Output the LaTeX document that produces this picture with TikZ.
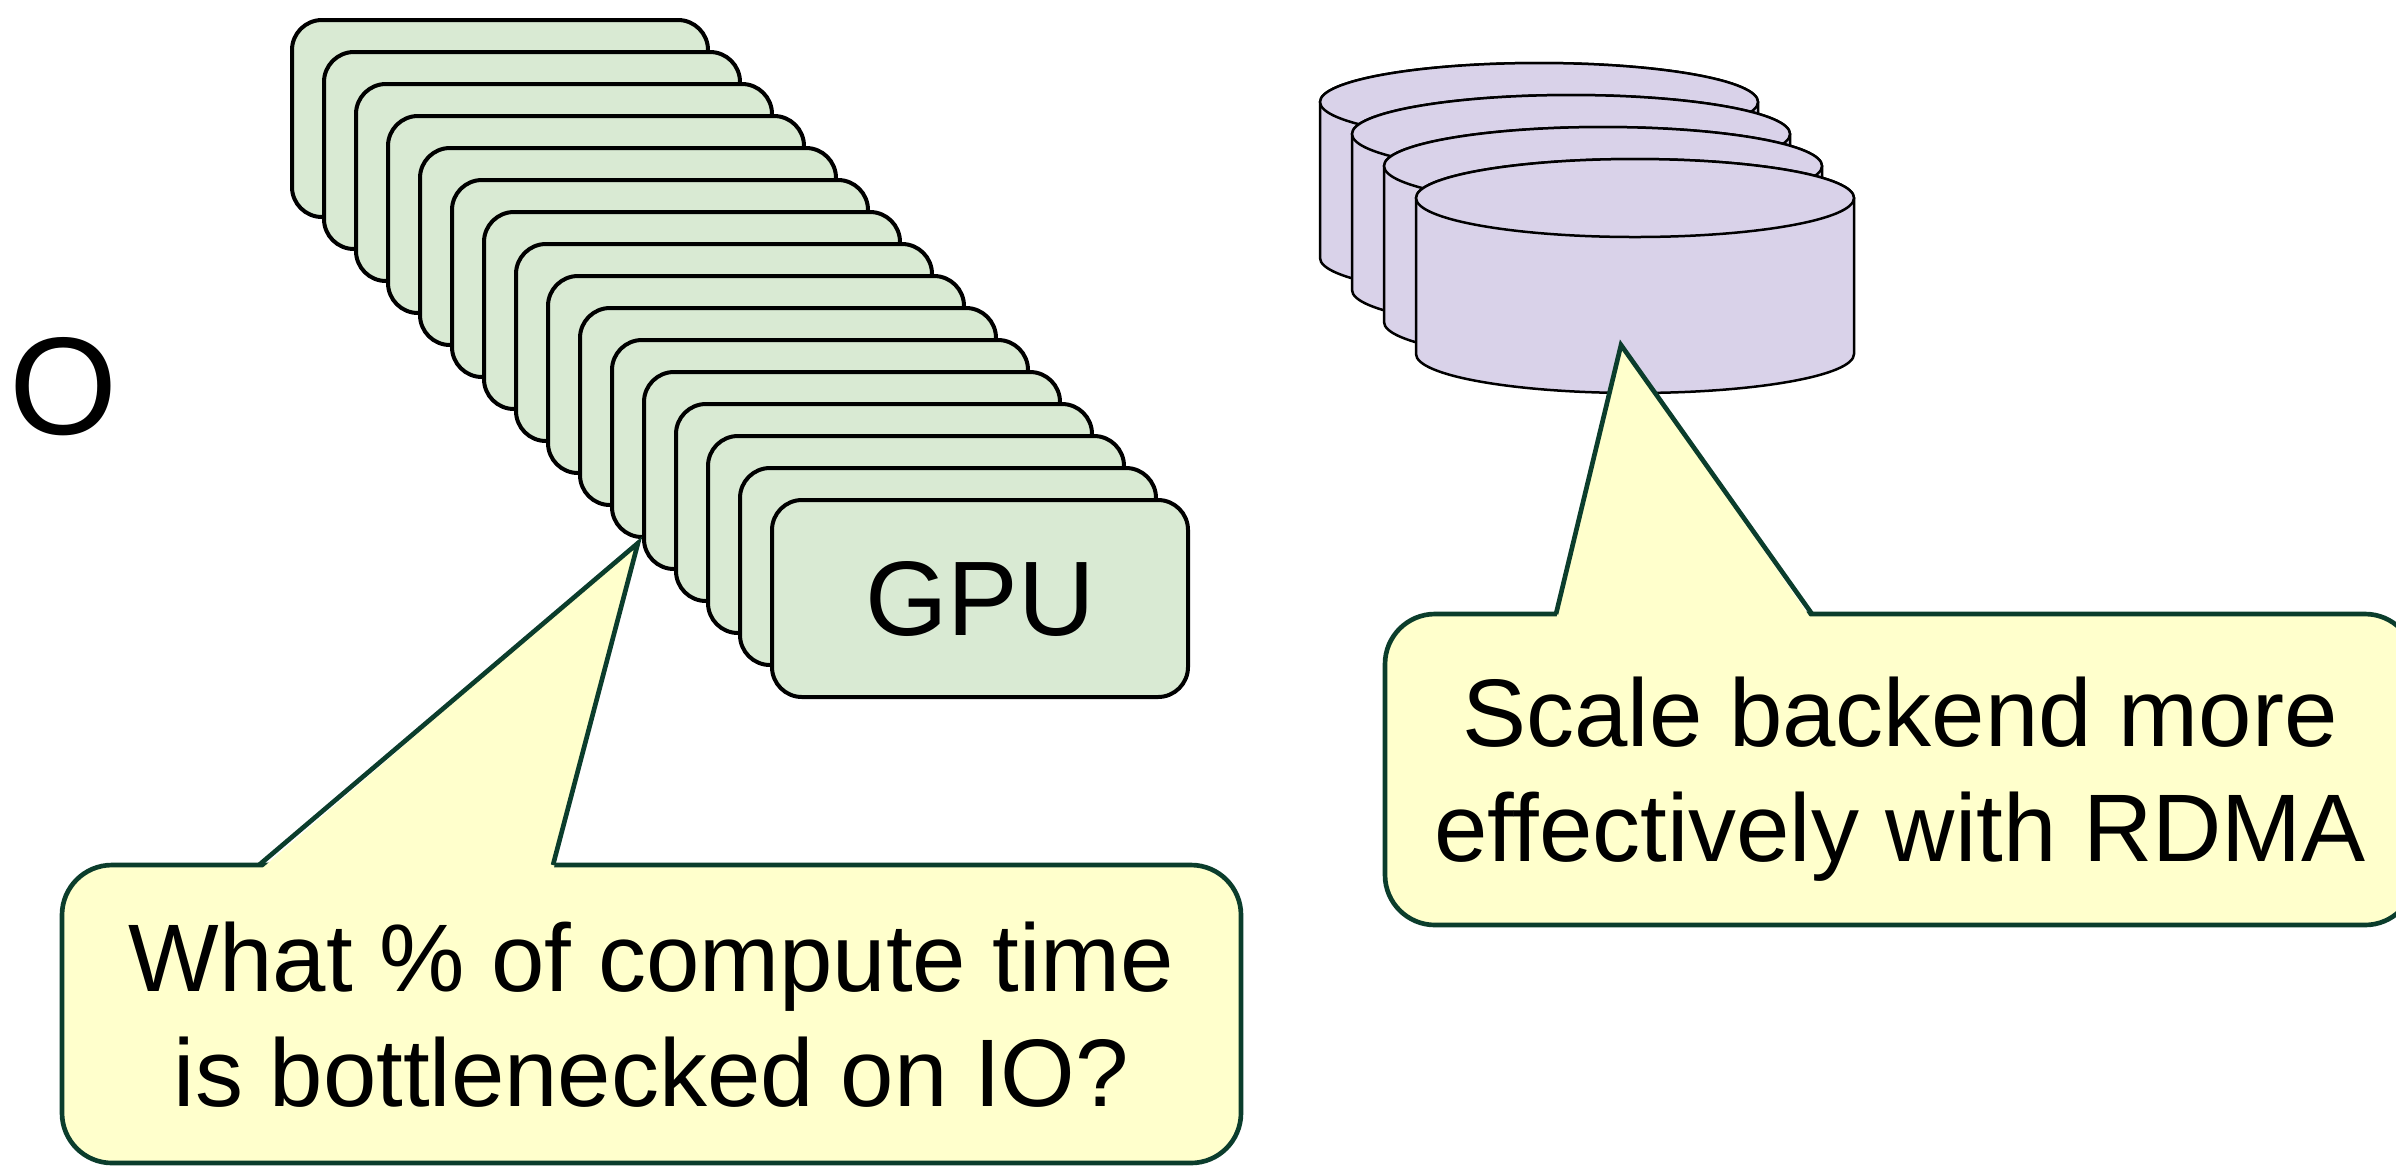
\documentclass[tikz,border=0pt]{standalone}
\usepackage{fontspec}
\setmainfont{Liberation Sans}
\usepackage{xcolor}
\usepackage{tikz}
\usetikzlibrary{calc}
\definecolor{gpugreen}{HTML}{D9EAD3}
\definecolor{disklilac}{HTML}{D9D2E9}
\definecolor{notefill}{HTML}{FFFFCC}
\definecolor{noteline}{HTML}{0B3D2C}
\tikzstyle{card}        = [rectangle, draw=black, line width=1.2pt, fill=gpugreen, rounded corners=9pt, minimum width=124.8pt, minimum height=59.1pt, inner sep=0pt, outer sep=0pt]
\tikzstyle{diskbody}    = [draw=black, line width=0.75pt, fill=disklilac]
\tikzstyle{notebox}     = [rectangle, draw=noteline, line width=1.4pt, fill=notefill, rounded corners=15pt, inner sep=0pt, outer sep=0pt, text depth=0pt, font=\fontsize{28.8pt}{34.5pt}\selectfont]
\tikzstyle{notepointer} = [draw=noteline, line width=1.4pt, line join=miter]
\tikzset{every node/.style={align=center}}

\begin{document}
\begin{tikzpicture}[x=0.3pt, y=0.3pt]
    \useasboundingbox (0,0) rectangle (2396,-1166);
    % left edge: cut-off label
    \node (io) at (63.5,-386.5) [font=\fontsize{41.7pt}{50pt}\selectfont] {O};
    % GPU cards, back to front
    \foreach \i in {0,...,14}
        \node (gpu\i) at ({500+32*\i},{-118.5-32*\i}) [card] {};
    \node (gpu15) at (980,-598.5) [card, font=\fontsize{31.8pt}{38pt}\selectfont] {GPU};
    % storage backend: four cylinders, back to front
    \foreach \i in {0,...,3} {
        \coordinate (disk\i) at ({1539+32*\i},{-102-32*\i});
        \path[diskbody] ($(disk\i)+(-219,0)$) -- ++(0,-156)
            arc[start angle=180, end angle=360, x radius=219, y radius=39] -- ++(0,156)
            arc[start angle=0, end angle=180, x radius=219, y radius=39] -- cycle;
        \path[diskbody] (disk\i) ellipse [x radius=219, y radius=39];
    }
    % callouts
    \node (ioq)  at (651.5,-1014) [notebox, minimum width=353.7pt, minimum height=89.4pt] {What \% of compute time\\is bottlenecked on IO?};
    \node (rdma) at (1900,-769.5) [notebox, minimum width=309pt, minimum height=93.3pt] {Scale backend more\\effectively with RDMA};
    \coordinate (ioqtip)  at (638,-543);
    \coordinate (rdmatip) at (1621,-345);

    \fill[notefill] ($(ioq.north west)+(197,-6)$) -- (ioqtip) -- ($(ioq.north west)+(491,-6)$) -- cycle;
    \draw[notepointer] ($(ioq.north west)+(197,0)$) -- (ioqtip) -- ($(ioq.north west)+(491,0)$);
    \fill[notefill] ($(rdma.north west)+(171,-6)$) -- (rdmatip) -- ($(rdma.north west)+(427,-6)$) -- cycle;
    \draw[notepointer] ($(rdma.north west)+(171,0)$) -- (rdmatip) -- ($(rdma.north west)+(427,0)$);
\end{tikzpicture}
\end{document}
